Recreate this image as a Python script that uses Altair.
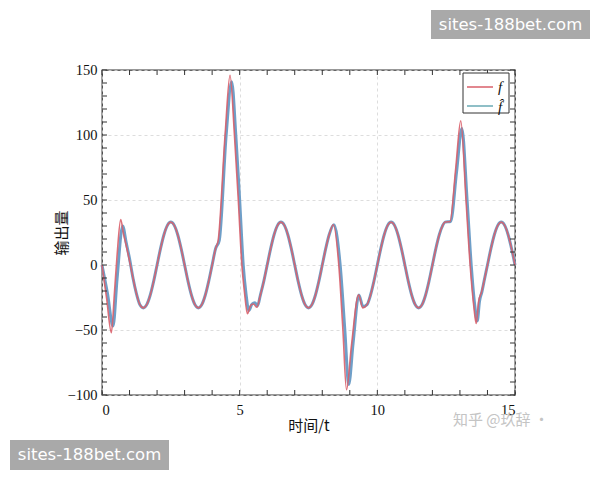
import altair as alt
import pandas as pd

# ---- data ----
t_f = [0, 0.17, 0.34, 0.45, 0.55, 0.68, 0.78, 0.88, 1.0, 1.125, 1.25, 1.375, 1.5, 1.625, 1.75, 1.875,
       2.0, 2.125, 2.25, 2.375, 2.5, 2.625, 2.75, 2.875, 3.0, 3.125, 3.25, 3.375, 3.5, 3.625, 3.75, 3.875,
       4.0, 4.125, 4.22, 4.47, 4.65, 4.81, 4.95, 5.08, 5.18, 5.28, 5.4, 5.5, 5.62, 5.75, 5.875,
       6.0, 6.125, 6.25, 6.375, 6.5, 6.625, 6.75, 6.875, 7.0, 7.125, 7.25, 7.375, 7.5, 7.625, 7.75, 7.875,
       8.0, 8.125, 8.25, 8.4, 8.6, 8.75, 8.88, 9.06, 9.32, 9.47, 9.625, 9.75, 9.875,
       10.0, 10.125, 10.25, 10.375, 10.5, 10.625, 10.75, 10.875, 11.0, 11.125, 11.25, 11.375, 11.5, 11.625, 11.75, 11.875,
       12.0, 12.125, 12.25, 12.375, 12.46, 12.64, 12.85, 13.03, 13.22, 13.37, 13.51, 13.59, 13.68, 13.79, 13.875,
       14.0, 14.125, 14.25, 14.375, 14.5, 14.625, 14.75, 14.875, 15.0]
v_f = [0, -26, -52, -22, 8, 35, 24, 15, 3, -10, -22, -30.5, -33, -30.5, -23.3, -12.6,
       0, 12.6, 23.3, 30.5, 33, 30.5, 23.3, 12.6, 0, -12.6, -23.3, -30.5, -33, -30.5, -23.3, -12.6,
       0, 12.6, 19, 100, 146, 100, 50, 0, -22, -37.5, -31, -30, -32.5, -23.3, -12.6,
       0, 12.6, 23.3, 30.5, 33, 30.5, 23.3, 12.6, 0, -12.6, -23.3, -30.5, -33, -30.5, -23.3, -12.6,
       0, 12.6, 23.3, 31, 0, -50, -96, -62, -23, -33, -30.5, -23.3, -12.6,
       0, 12.6, 23.3, 30.5, 33, 30.5, 23.3, 12.6, 0, -12.6, -23.3, -30.5, -33, -30.5, -23.3, -12.6,
       0, 12.6, 23.3, 30.5, 33, 33.5, 75, 111, 50, 0, -33, -45, -28, -20.5, -12.6,
       0, 12.6, 23.3, 30.5, 33, 30.5, 23.3, 12.6, 0]

t_fh = [0, 0.2, 0.4, 0.55, 0.75, 0.88, 1.0, 1.125, 1.25, 1.375, 1.5, 1.625, 1.75, 1.875,
        2.0, 2.125, 2.25, 2.375, 2.5, 2.625, 2.75, 2.875, 3.0, 3.125, 3.25, 3.375, 3.5, 3.625, 3.75, 3.875,
        4.0, 4.125, 4.26, 4.51, 4.71, 4.86, 5.0, 5.13, 5.23, 5.33, 5.45, 5.55, 5.65, 5.75, 5.875,
        6.0, 6.125, 6.25, 6.375, 6.5, 6.625, 6.75, 6.875, 7.0, 7.125, 7.25, 7.375, 7.5, 7.625, 7.75, 7.875,
        8.0, 8.125, 8.25, 8.42, 8.65, 8.82, 8.96, 9.12, 9.33, 9.48, 9.625, 9.75, 9.875,
        10.0, 10.125, 10.25, 10.375, 10.5, 10.625, 10.75, 10.875, 11.0, 11.125, 11.25, 11.375, 11.5, 11.625, 11.75, 11.875,
        12.0, 12.125, 12.25, 12.375, 12.46, 12.66, 12.88, 13.07, 13.26, 13.41, 13.55, 13.63, 13.71, 13.8, 13.875,
        14.0, 14.125, 14.25, 14.375, 14.5, 14.625, 14.75, 14.875, 15.0]
v_fh = [0, -22, -47, -10, 30, 17, 5, -10, -22, -30.5, -33, -30.5, -23.3, -12.6,
        0, 12.6, 23.3, 30.5, 33, 30.5, 23.3, 12.6, 0, -12.6, -23.3, -30.5, -33, -30.5, -23.3, -12.6,
        0, 12.6, 19, 100, 141, 100, 50, 0, -22, -35, -30, -29, -31.5, -23.3, -12.6,
        0, 12.6, 23.3, 30.5, 33, 30.5, 23.3, 12.6, 0, -12.6, -23.3, -30.5, -33, -30.5, -23.3, -12.6,
        0, 12.6, 23.3, 31, 0, -50, -92, -60, -23, -32, -30.5, -23.3, -12.6,
        0, 12.6, 23.3, 30.5, 33, 30.5, 23.3, 12.6, 0, -12.6, -23.3, -30.5, -33, -30.5, -23.3, -12.6,
        0, 12.6, 23.3, 30.5, 33, 33.5, 72, 105, 50, 0, -33, -43, -28, -20.5, -12.6,
        0, 12.6, 23.3, 30.5, 33, 30.5, 23.3, 12.6, 0]

x_major = [0, 5, 10, 15]
y_major = [-100, -50, 0, 50, 100, 150]
x_minor = list(range(0, 16))
y_minor = list(range(-100, 151, 10))

RED = "#d95f6a"
BLUE = "#6f9fc8"
W, H = 413, 325

xs = alt.Scale(domain=[0, 15], nice=False, zero=False)
ys = alt.Scale(domain=[-100, 150], nice=False, zero=False)

xaxis = alt.Axis(values=x_major, title="时间/t", grid=True, gridDash=[3, 3], gridColor="#d4d4d4",
                 gridWidth=0.8, ticks=False, tickSize=0, domain=False, labelPadding=8,
                 labelFont="Liberation Serif", labelFontSize=14.5, labelColor="#111",
                 titleFont="Noto Sans CJK SC", titleFontSize=15, titleFontWeight="normal",
                 titleColor="#111", titleBaseline="middle", titleY=30, titleX=W / 2)
yaxis = alt.Axis(values=y_major, title="输出量", grid=True, gridDash=[3, 3], gridColor="#d4d4d4",
                 gridWidth=0.8, ticks=False, tickSize=0, domain=False, labelPadding=5,
                 labelFont="Liberation Serif", labelFontSize=14.5, labelColor="#111",
                 titleFont="Noto Sans CJK SC", titleFontSize=15, titleFontWeight="normal",
                 titleColor="#111", titleAngle=270, titleBaseline="middle", titleAlign="center",
                 titleX=-41, titleY=H / 2)

df_f = pd.DataFrame({"t": t_f, "v": v_f})
df_fh = pd.DataFrame({"t": t_fh, "v": v_fh})

line_fh = alt.Chart(df_fh).mark_line(color=BLUE, strokeWidth=3, interpolate="monotone").encode(
    x=alt.X("t:Q", scale=xs, axis=xaxis), y=alt.Y("v:Q", scale=ys, axis=yaxis))
line_f = alt.Chart(df_f).mark_line(color=RED, strokeWidth=1.6, opacity=0.9, interpolate="monotone").encode(
    x=alt.X("t:Q", scale=xs, axis=xaxis), y=alt.Y("v:Q", scale=ys, axis=yaxis))

xt = pd.DataFrame({"t": x_minor})
yt = pd.DataFrame({"v": y_minor})
tick_style = dict(color="#333", strokeWidth=1)
ticks_b = alt.Chart(xt).mark_rule(**tick_style).encode(
    x=alt.X("t:Q", scale=xs, axis=xaxis), y=alt.value(H), y2=alt.value(H - 5))
ticks_t = alt.Chart(xt).mark_rule(**tick_style).encode(
    x=alt.X("t:Q", scale=xs, axis=xaxis), y=alt.value(0), y2=alt.value(5))
ticks_l = alt.Chart(yt).mark_rule(**tick_style).encode(
    y=alt.Y("v:Q", scale=ys, axis=yaxis), x=alt.value(0), x2=alt.value(5))
ticks_r = alt.Chart(yt).mark_rule(**tick_style).encode(
    y=alt.Y("v:Q", scale=ys, axis=yaxis), x=alt.value(W), x2=alt.value(W - 5))

one = pd.DataFrame({"a": [0]})
leg_box = alt.Chart(one).mark_rect(fill="white", stroke="#333", strokeWidth=1).encode(
    x=alt.value(361), x2=alt.value(407), y=alt.value(3), y2=alt.value(43))
leg_l1 = alt.Chart(one).mark_rule(color=RED, strokeWidth=1.5).encode(
    x=alt.value(365), x2=alt.value(391), y=alt.value(17))
leg_l2 = alt.Chart(one).mark_rule(color="#6aaab4", strokeWidth=1.5).encode(
    x=alt.value(365), x2=alt.value(391), y=alt.value(36))
leg_t1 = alt.Chart(one).mark_text(font="Liberation Serif", fontStyle="italic", fontSize=15,
                                  align="center", baseline="middle", color="#111").encode(
    x=alt.value(398), y=alt.value(17), text=alt.value("f"))
leg_t2 = alt.Chart(one).mark_text(font="Liberation Serif", fontStyle="italic", fontSize=15,
                                  align="center", baseline="middle", color="#111").encode(
    x=alt.value(398), y=alt.value(37), text=alt.value("f\u0302"))

wm_box1 = alt.Chart(one).mark_rect(fill="#a9a9a9").encode(
    x=alt.value(329), x2=alt.value(488), y=alt.value(-60), y2=alt.value(-31))
wm_txt1 = alt.Chart(one).mark_text(font="DejaVu Sans", fontSize=16.5, color="white",
                                   align="center", baseline="middle").encode(
    x=alt.value(408.5), y=alt.value(-45), text=alt.value("sites-188bet.com"))
wm_box2 = alt.Chart(one).mark_rect(fill="#a9a9a9").encode(
    x=alt.value(-92), x2=alt.value(67), y=alt.value(370), y2=alt.value(400))
wm_txt2 = alt.Chart(one).mark_text(font="DejaVu Sans", fontSize=16.5, color="white",
                                   align="center", baseline="middle").encode(
    x=alt.value(-12.5), y=alt.value(385), text=alt.value("sites-188bet.com"))
wm_zh = alt.Chart(one).mark_text(font="Noto Sans CJK SC", fontSize=15, color="#c4c4c4",
                                 align="left", baseline="middle").encode(
    x=alt.value(351), y=alt.value(350), text=alt.value("知乎 @玖辞 ·"))

chart = alt.layer(
    line_fh, line_f, ticks_b, ticks_t, ticks_l, ticks_r,
    leg_box, leg_l1, leg_l2, leg_t1, leg_t2,
    wm_box1, wm_txt1, wm_box2, wm_txt2, wm_zh,
).properties(
    width=W, height=H,
    autosize=alt.AutoSizeParams(type="none"),
    padding={"left": 94, "top": 62, "right": 77, "bottom": 77},
    background="white",
).configure_view(stroke="#333", strokeWidth=1.3)

chart.save("out.html", embed_options={"renderer": "svg", "actions": False})
